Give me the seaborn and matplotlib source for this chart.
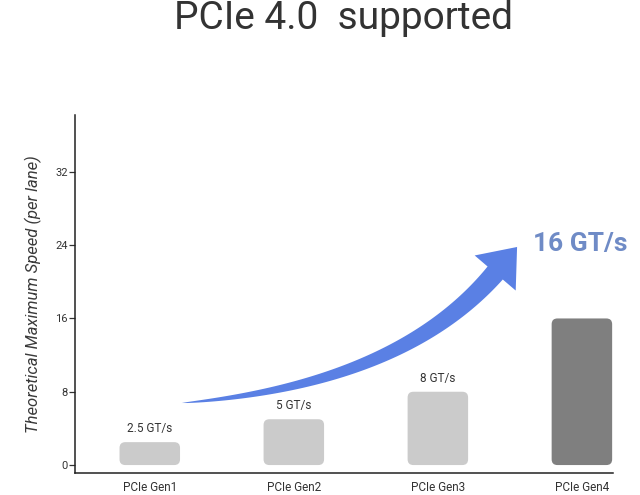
import matplotlib
matplotlib.use("Agg")
import numpy as np
import matplotlib.pyplot as plt
import seaborn as sns
import pandas as pd
from matplotlib.patches import FancyBboxPatch, Polygon

# data
generations = ["PCIe Gen1", "PCIe Gen2", "PCIe Gen3", "PCIe Gen4"]
speeds = [2.5, 5, 8, 16]
speed_labels = ["2.5 GT/s", "5 GT/s", "8 GT/s", "16 GT/s"]
yticks = [0, 8, 16, 24, 32]

df = pd.DataFrame({"gen": generations, "speed": speeds})

sns.set_style("white")
plt.rcParams["font.family"] = ["Roboto", "DejaVu Sans"]

fig = plt.figure(figsize=(6.4, 4.95), dpi=100)
ax = fig.add_axes([0.117, 0.0444, 0.8406, 0.7232])

colors = ["#cbcbcb", "#cbcbcb", "#cbcbcb", "#7f7f7f"]
sns.barplot(data=df, x="gen", y="speed", hue="gen", palette=colors,
            width=0.42, legend=False, ax=ax)

ax.set_xlim(-0.52, 3.215)
ax.set_ylim(-0.87, 38.2)

# swap plain bars for rounded ones
px_x = 0.8406 * 640 / (3.215 + 0.52)
px_y = 0.7232 * 495 / (38.2 + 0.87)
for p in list(ax.patches):
    x, y = p.get_x(), p.get_y()
    w, h = p.get_width(), p.get_height()
    rb = FancyBboxPatch((x, y), w, h,
                        boxstyle="round,pad=0,rounding_size=0.04",
                        mutation_aspect=px_x / px_y,
                        facecolor=p.get_facecolor(), edgecolor="none")
    p.remove()
    ax.add_patch(rb)

# value labels on the first three bars
for i in range(3):
    ax.text(i, speeds[i] + 1.5, speed_labels[i], ha="center", va="center",
            fontsize=8.5, color="#333333")

# tapered curved arrow (built in pixel space, drawn in data space)
tr = ax.transData
p0, p1, p2, tip = tr.transform([(0.222, 6.77), (1.733, 8.73),
                                (2.398, 20.96), (2.550, 23.80)])
t = np.linspace(0, 1, 80)[:, None]
curve = (1 - t) ** 2 * p0 + 2 * (1 - t) * t * p1 + t ** 2 * p2
deriv = 2 * (1 - t) * (p1 - p0) + 2 * t * (p2 - p1)
deriv /= np.linalg.norm(deriv, axis=1, keepdims=True)
normal = np.column_stack([-deriv[:, 1], deriv[:, 0]])
half = 10 * t ** 0.7
left = curve + normal * half
right = curve - normal * half
n_end = normal[-1]
wing_l = p2 + n_end * 27
wing_r = p2 - n_end * 27
outline = np.vstack([left, [wing_l, tip, wing_r], right[::-1]])
ax.add_patch(Polygon(tr.inverted().transform(outline), closed=True,
                     facecolor="#5a80e4", edgecolor="none"))

ax.text(2.66, 24.1, speed_labels[3], ha="left", va="center",
        fontsize=19, fontweight="bold", color="#6f8bc6")

ax.set_yticks(yticks)
ax.set_xlabel("")
ax.set_ylabel("Theoretical Maximum Speed (per lane)", fontsize=12,
              style="italic", color="#3a3a3a", labelpad=10)
ax.tick_params(axis="y", left=True, length=4, width=0.9, labelsize=8,
               colors="#333333", pad=1)
ax.tick_params(axis="x", bottom=False, labelsize=8.5, colors="#333333", pad=2)

for side in ["top", "right"]:
    ax.spines[side].set_visible(False)
for side in ["left", "bottom"]:
    ax.spines[side].set_color("#222222")
    ax.spines[side].set_linewidth(1.1)

fig.text(0.536, 0.962, "PCIe 4.0  supported", ha="center", va="center",
         fontsize=28, color="#333333")

fig.savefig("out.png", dpi=100)
